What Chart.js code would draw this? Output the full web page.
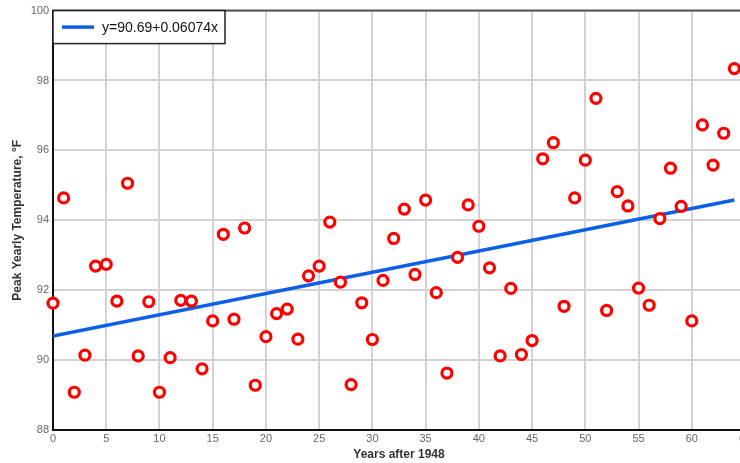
<!DOCTYPE html>
<html>
<head>
<meta charset="utf-8">
<script src="https://cdn.jsdelivr.net/npm/chart.js@4/dist/chart.umd.min.js"></script>
<style>
  body { margin: 0; overflow: hidden; background: #fff; }
</style>
</head>
<body>
<canvas id="temp-chart" width="760" height="463"></canvas>
<script>
// years after 1948 and peak temperature (F)
const years = [0,1,2,3,4,5,6,7,8,9,10,11,12,13,14,15,16,17,18,19,20,21,22,23,24,25,26,27,28,29,30,31,32,
  33,34,35,36,37,38,39,40,41,42,43,44,45,46,47,48,49,50,51,52,53,54,55,56,57,58,59,60,61,62,63,64];
const peakTemp = [91.63,94.64,89.08,90.14,92.69,92.74,91.69,95.06,90.12,91.67,89.08,90.07,91.71,91.69,89.75,91.12,
  93.60,91.17,93.78,89.28,90.67,91.33,91.46,90.60,92.41,92.69,93.95,92.23,89.30,91.64,90.59,92.28,93.48,
  94.32,92.45,94.58,91.93,89.63,92.94,94.44,93.83,92.64,90.12,92.05,90.16,90.56,95.76,96.22,91.54,94.64,
  95.72,97.49,91.42,94.82,94.41,92.06,91.57,94.05,95.49,94.40,91.12,96.73,95.58,96.49,98.34];

// fitted line end points
const fitYears = [0, 64];
const fitTemp = [90.69, 94.58];
const fitLabel = 'y=90.69+0.06074x';

const xTicks = [0, 65, 5];
const yTicks = [88, 100, 2];

const font = 'Arial, "Liberation Sans"';

// top frame line + legend box in the top left corner
const frame = {
  id: 'frame',
  afterDraw(chart) {
    const c = chart.ctx;
    const a = chart.chartArea;
    c.save();
    c.strokeStyle = '#555';
    c.lineWidth = 2;
    c.beginPath();
    c.moveTo(a.left, a.top);
    c.lineTo(a.right, a.top);
    c.stroke();

    const ds = chart.data.datasets[0];
    c.font = '14px ' + font;
    const tw = c.measureText(ds.label).width;
    const bx = a.left, by = a.top, bh = 33;
    const bw = 9 + 32 + 8 + tw + 7;
    c.fillStyle = '#fff';
    c.fillRect(bx, by, bw, bh);
    c.strokeStyle = '#222';
    c.lineWidth = 1.5;
    c.strokeRect(bx, by, bw, bh);
    c.strokeStyle = ds.borderColor;
    c.lineWidth = 3.5;
    c.beginPath();
    c.moveTo(bx + 9, by + bh / 2);
    c.lineTo(bx + 41, by + bh / 2);
    c.stroke();
    c.fillStyle = '#111';
    c.textBaseline = 'middle';
    c.fillText(ds.label, bx + 49, by + bh / 2 + 1);
    c.restore();
  }
};

const ctx = document.getElementById('temp-chart');

new Chart(ctx, {
  data: {
    datasets: [
      {
        type: 'line',
        label: fitLabel,
        data: fitYears.map((x, i) => ({x: x, y: fitTemp[i]})),
        borderColor: '#0b5fe8',
        backgroundColor: '#0b5fe8',
        borderWidth: 3.5,
        pointRadius: 0,
        order: 2,
      },
      {
        type: 'scatter',
        label: 'peak',
        data: years.map((x, i) => ({x: x, y: peakTemp[i]})),
        borderColor: '#f00',
        backgroundColor: '#fff',
        borderWidth: 3.2,
        pointRadius: 5,
        clip: false,
        order: 1,
      },
    ],
  },
  options: {
    responsive: false,
    devicePixelRatio: 1,
    animation: false,
    layout: { padding: { top: 10, right: 15, left: 0, bottom: 0 } },
    plugins: {
      tooltip: { enabled: false },
      legend: { display: false },
    },
    scales: {
      x: {
        type: 'linear',
        min: xTicks[0],
        max: xTicks[1],
        afterFit: (s) => { s.height = 33; },
        ticks: { stepSize: xTicks[2], color: '#666', padding: 2, font: { family: font, size: 11 } },
        grid: { color: '#d2d2d2', lineWidth: 2, drawTicks: false },
        border: { color: '#111', width: 2 },
        title: {
          display: true,
          text: 'Years after 1948',
          color: '#333',
          padding: { top: 0, bottom: 1 },
          font: { family: font, size: 12, weight: 'bold' },
        },
      },
      y: {
        min: yTicks[0],
        max: yTicks[1],
        afterFit: (s) => { s.width = 53; },
        ticks: { stepSize: yTicks[2], color: '#666', padding: 4, font: { family: font, size: 11 } },
        grid: { color: '#d2d2d2', lineWidth: 2, drawTicks: false },
        border: { color: '#111', width: 2 },
        title: {
          display: true,
          text: 'Peak Yearly Temperature, °F',
          color: '#333',
          padding: { top: 10, bottom: 2 },
          font: { family: font, size: 12, weight: 'bold' },
        },
      },
    },
  },
  plugins: [frame],
});
</script>
</body>
</html>
